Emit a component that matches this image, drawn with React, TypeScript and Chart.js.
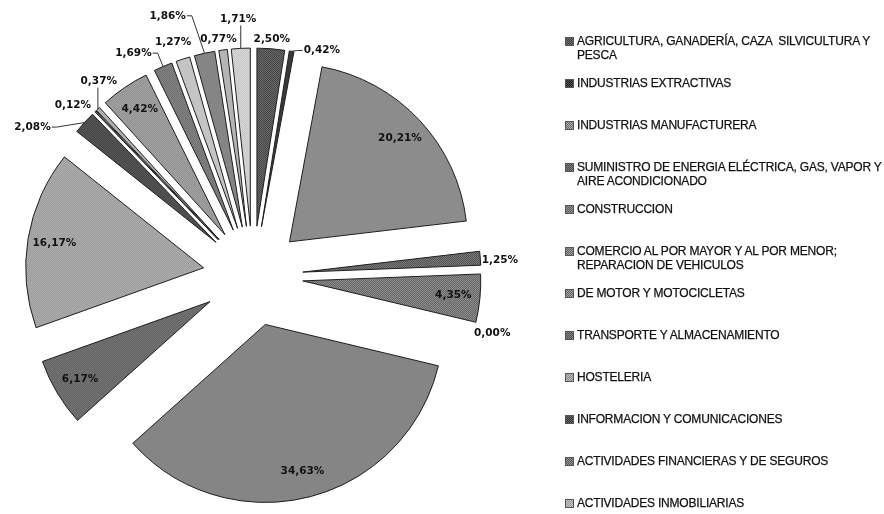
import React, { useEffect, useRef } from 'react';
import { Chart, registerables, ArcElement, PieController } from 'chart.js';

Chart.register(...registerables);

// ---------- data ----------
const categories: string[] = [
  'AGRICULTURA, GANADERÍA, CAZA  SILVICULTURA Y\nPESCA',
  'INDUSTRIAS EXTRACTIVAS',
  'INDUSTRIAS MANUFACTURERA',
  'SUMINISTRO DE ENERGIA ELÉCTRICA, GAS, VAPOR Y\nAIRE ACONDICIONADO',
  'CONSTRUCCION',
  'COMERCIO AL POR MAYOR Y AL POR MENOR;\nREPARACION DE VEHICULOS',
  'DE MOTOR Y MOTOCICLETAS',
  'TRANSPORTE Y ALMACENAMIENTO',
  'HOSTELERIA',
  'INFORMACION Y COMUNICACIONES',
  'ACTIVIDADES FINANCIERAS Y DE SEGUROS',
  'ACTIVIDADES INMOBILIARIAS',
  'ACTIVIDADES PROFESIONALES, CIENTIFICAS Y TECNICAS',
  'ACTIVIDADES ADMINISTRATIVAS Y SERVICIOS AUXILIARES',
  'EDUCACION',
  'ACTIVIDADES SANITARIAS Y DE SERVICIOS SOCIALES',
  'ACTIVIDADES ARTISTICAS, RECREATIVAS Y DE ENTRETENIMIENTO',
  'OTROS SERVICIOS',
];

const shares: number[] = [
  2.5, 0.42, 20.21, 1.25, 4.35, 0.0, 34.63, 6.17, 16.17,
  2.08, 0.12, 0.37, 4.42, 1.69, 1.27, 1.86, 0.77, 1.71,
];

// number of legend entries visible (the rest are cut off in the original)
const legendVisible = 12;

// ---------- style ----------
const grays: number[] = [
  88, 58, 140, 102, 122, 128, 133, 108, 165,
  78, 118, 176, 154, 122, 196, 133, 181, 207,
];
const labelNudges: [number, number][] = [
  [0, 2], [28, 12], [0, 0], [-3, 4], [0, 0], [-5, -1], [0, 0], [0, 0], [0, 0],
  [-36, 19], [-8, 9], [15, -12], [0, 0], [-23, 2], [-5, -2], [-34, -24], [-3, 2], [-2, -18],
];
const insideMin = 4;
const explode = 50;
const pieRadius = 178;

const g = (v: number) => {
  const c = Math.max(0, Math.min(255, Math.round(v)));
  return `rgb(${c},${c},${c})`;
};
const fmt = (v: number) => v.toFixed(2).replace('.', ',') + '%';

class ExplodedArc extends ArcElement {
  static id = 'explodedArc';
  draw(ctx: CanvasRenderingContext2D) {
    const self: any = this;
    const { x, y, startAngle, endAngle, outerRadius } = self;
    const o = self.options;
    if (!(endAngle > startAngle)) return;
    const mid = (startAngle + endAngle) / 2;
    const d = o.offset || 0;
    ctx.save();
    ctx.translate(Math.cos(mid) * d, Math.sin(mid) * d);
    ctx.beginPath();
    ctx.moveTo(x, y);
    ctx.arc(x, y, outerRadius, startAngle, endAngle);
    ctx.closePath();
    ctx.fillStyle = o.backgroundColor;
    ctx.fill();
    if (o.borderWidth > 0) {
      ctx.lineWidth = o.borderWidth;
      ctx.strokeStyle = o.borderColor;
      ctx.lineJoin = 'miter';
      ctx.stroke();
    }
    ctx.restore();
  }
}

class ExplodedPieController extends (PieController as any) {
  static id = 'explodedPie';
  static defaults = { dataElementType: 'explodedArc' };
}

Chart.register(ExplodedArc as any, ExplodedPieController as any);

const labelPlugin = {
  id: 'sliceLabels',
  afterDatasetsDraw(chart: any) {
    const ctx: CanvasRenderingContext2D = chart.ctx;
    const meta = chart.getDatasetMeta(0);
    ctx.save();
    ctx.font = 'bold 10.5px "DejaVu Sans"';
    ctx.textAlign = 'center';
    ctx.textBaseline = 'middle';
    ctx.fillStyle = '#111';
    ctx.strokeStyle = '#333';
    ctx.lineWidth = 1;
    meta.data.forEach((arc: any, i: number) => {
      const p = arc.getProps(['x', 'y', 'startAngle', 'endAngle', 'outerRadius'], true);
      const off = arc.options.offset || 0;
      const mid = (p.startAngle + p.endAngle) / 2;
      const dx = Math.cos(mid);
      const dy = Math.sin(mid);
      const ax = p.x + off * dx;
      const ay = p.y + off * dy;
      const text = fmt(shares[i]);
      const w = ctx.measureText(text).width;
      const h = 12;
      let cx: number;
      let cy: number;
      if (shares[i] >= insideMin) {
        cx = ax + 0.85 * p.outerRadius * dx;
        cy = ay + 0.85 * p.outerRadius * dy;
      } else {
        const s = p.outerRadius + 4 + (w / 2) * Math.abs(dx) + (h / 2) * Math.abs(dy);
        const [nx, ny] = labelNudges[i];
        cx = ax + s * dx + nx;
        cy = ay + s * dy + ny;
        if (Math.hypot(nx, ny) > 14) {
          const px = ax + p.outerRadius * dx;
          const py = ay + p.outerRadius * dy;
          ctx.beginPath();
          if (Math.abs(px - cx) > w / 2) {
            const sgn = Math.sign(px - cx);
            const sx = cx + sgn * (w / 2 + 1);
            ctx.moveTo(sx, cy);
            ctx.lineTo(sx + sgn * 5, cy);
            ctx.lineTo(px, py);
          } else {
            const sy = py > cy ? cy + h / 2 : cy - h / 2;
            ctx.moveTo(px, sy);
            ctx.lineTo(px, py);
          }
          ctx.stroke();
        }
      }
      ctx.fillText(text, cx, cy);
    });
    ctx.restore();
  },
};

export default function App() {
  const ref = useRef<HTMLCanvasElement | null>(null);

  useEffect(() => {
    const canvas = ref.current;
    if (!canvas) return;
    const c2d = canvas.getContext('2d')!;
    const patterns = grays.map((v) => {
      const t = document.createElement('canvas');
      t.width = 4;
      t.height = 4;
      const tc = t.getContext('2d')!;
      for (let yy = 0; yy < 4; yy++) {
        for (let xx = 0; xx < 4; xx++) {
          tc.fillStyle = (xx + yy) % 2 === 0 ? g(v - 32) : g(v + 32);
          tc.fillRect(xx, yy, 1, 1);
        }
      }
      return c2d.createPattern(t, 'repeat');
    });
    const chart = new Chart(canvas, {
      type: 'explodedPie' as any,
      data: {
        labels: categories.map((s) => s.replace('\n', ' ')),
        datasets: [
          {
            data: shares,
            backgroundColor: patterns as any,
            borderColor: '#1e1e1e',
            borderWidth: 1,
            offset: explode,
          } as any,
        ],
      },
      options: {
        animation: false,
        responsive: false,
        events: [],
        radius: pieRadius,
        layout: { padding: { left: 0, right: 378, top: 38, bottom: 0 } },
        plugins: { legend: { display: false }, tooltip: { enabled: false } },
      } as any,
      plugins: [labelPlugin],
    });
    return () => chart.destroy();
  }, []);

  return (
    <div style={{ position: 'absolute', left: 0, top: 0, width: 884, height: 514, background: '#fff', overflow: 'hidden' }}>
      <canvas ref={ref} width={884} height={514} style={{ display: 'block', width: 884, height: 514 }} />
      {categories.slice(0, legendVisible).map((name, i) => (
        <div
          key={i}
          style={{
            position: 'absolute',
            left: 565,
            top: 41 + 42 * i - 7,
            display: 'flex',
            alignItems: 'flex-start',
            fontFamily: '"Liberation Sans", Arial, sans-serif',
            fontSize: 12,
            letterSpacing: -0.2,
            lineHeight: '14px',
            color: '#111',
            WebkitTextStroke: '0.25px #111',
            whiteSpace: 'pre',
          }}
        >
          <span
            style={{
              display: 'inline-block',
              width: 7,
              height: 7,
              marginTop: 3,
              marginRight: 3,
              border: '1px solid #555',
              background: `repeating-conic-gradient(${g(grays[i] - 32)} 0 25%, ${g(grays[i] + 32)} 0 50%) 0 0 / 2px 2px`,
            }}
          />
          <span>{name}</span>
        </div>
      ))}
    </div>
  );
}
